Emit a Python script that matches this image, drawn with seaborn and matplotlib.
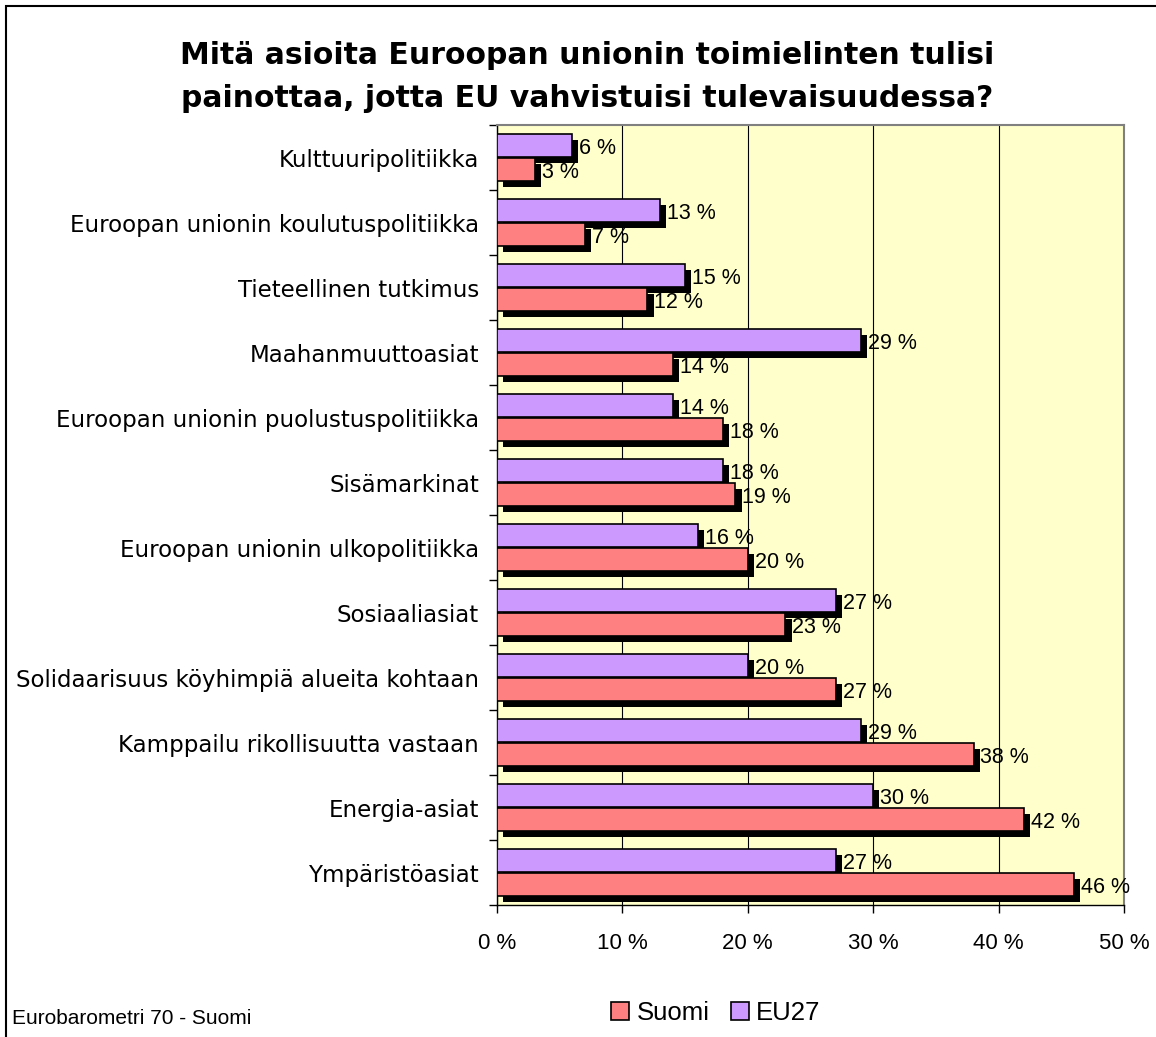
import seaborn as sns
import matplotlib.pyplot as plt
import matplotlib.patheffects as pe
from matplotlib.patches import Rectangle, Patch
import pandas as pd

categories = [
    "Kulttuuripolitiikka",
    "Euroopan unionin koulutuspolitiikka",
    "Tieteellinen tutkimus",
    "Maahanmuuttoasiat",
    "Euroopan unionin puolustuspolitiikka",
    "Sisämarkinat",
    "Euroopan unionin ulkopolitiikka",
    "Sosiaaliasiat",
    "Solidaarisuus köyhimpiä alueita kohtaan",
    "Kamppailu rikollisuutta vastaan",
    "Energia-asiat",
    "Ympäristöasiat",
]
eu27 = [6, 13, 15, 29, 14, 18, 16, 27, 20, 29, 30, 27]
suomi = [3, 7, 12, 14, 18, 19, 20, 23, 27, 38, 42, 46]

df = pd.DataFrame({
    "kategoria": categories * 2,
    "sarja": ["EU27"] * len(categories) + ["Suomi"] * len(categories),
    "arvo": eu27 + suomi,
})

sns.set_style("white")
plt.rcParams["font.family"] = ["DejaVu Sans"]
plt.rcParams["text.color"] = "black"
plt.rcParams["xtick.color"] = "black"
plt.rcParams["ytick.color"] = "black"
plt.rcParams["xtick.labelcolor"] = "black"
plt.rcParams["ytick.labelcolor"] = "black"

colors = {"EU27": "#CC99FF", "Suomi": "#FF8080"}

fig = plt.figure(figsize=(11.56, 10.37), dpi=100)
ax = fig.add_axes([497 / 1156, 1 - 905 / 1037, (1124 - 497) / 1156, (905 - 125) / 1037])
ax.set_facecolor("#FFFFCC")

sns.barplot(data=df, y="kategoria", x="arvo", hue="sarja", hue_order=["EU27", "Suomi"],
            palette=colors, saturation=1, orient="h", width=0.74, gap=0.06, edgecolor="black",
            linewidth=1.2, legend=False, ax=ax, zorder=3)

for p in ax.patches:
    p.set_path_effects([pe.SimplePatchShadow(offset=(4.5, -4.5), shadow_rgbFace="black", alpha=1.0),
                        pe.Normal()])

for cont in ax.containers:
    anns = ax.bar_label(cont, labels=[f"{int(v)} %" for v in cont.datavalues], padding=5,
                        fontsize=15.5, fontfamily="Liberation Sans", color="black")
    for a in anns:
        a.xyann = (5, -2.5)

ax.set_xlim(0, 50)
ax.set_xticks([0, 10, 20, 30, 40, 50])
ax.set_xticklabels([f"{t} %" for t in [0, 10, 20, 30, 40, 50]], fontfamily="Liberation Sans", fontsize=16)
ax.xaxis.grid(True, color="black", linewidth=0.8)
ax.set_axisbelow(True)
ax.set_xlabel("")
ax.set_ylabel("")
ax.tick_params(axis="y", labelsize=16.5, length=0, pad=13)
ax.tick_params(axis="x", direction="out", length=6, width=1, color="black", pad=14, bottom=True)

# ticks between categories
ax.set_yticks([i - 0.5 for i in range(len(categories) + 1)], minor=True)
ax.tick_params(axis="y", which="minor", direction="out", length=6, width=1, color="black", left=True)

for s in ["left", "bottom"]:
    ax.spines[s].set_color("black")
    ax.spines[s].set_linewidth(1)
for s in ["top", "right"]:
    ax.spines[s].set_color("#808080")
    ax.spines[s].set_linewidth(1.5)

fig.text(0.508, 1 - 77 / 1037, "Mitä asioita Euroopan unionin toimielinten tulisi\npainottaa, jotta EU vahvistuisi tulevaisuudessa?",
         ha="center", va="center", fontsize=21.5, fontweight="heavy", linespacing=1.58)

fig.text(12 / 1156, 1 - 1018 / 1037, "Eurobarometri 70 - Suomi", ha="left", va="center",
         fontsize=15, fontfamily="Liberation Sans")

handles = [Patch(facecolor=colors["Suomi"], edgecolor="black", linewidth=1.2),
           Patch(facecolor=colors["EU27"], edgecolor="black", linewidth=1.2)]
fig.legend(handles, ["Suomi", "EU27"], loc="center", bbox_to_anchor=(716 / 1156, 1 - 1013 / 1037),
           ncol=2, frameon=False, prop={"family": "Liberation Sans", "size": 18.5},
           handlelength=0.7, handleheight=0.7, handletextpad=0.3, columnspacing=0.8)

fig.patches.append(Rectangle((6 / 1156, -0.05), 1.2, 1 - 6 / 1037 + 0.05, transform=fig.transFigure,
                             fill=False, edgecolor="black", linewidth=1.5))

fig.savefig("out.png", dpi=100, facecolor="white")
